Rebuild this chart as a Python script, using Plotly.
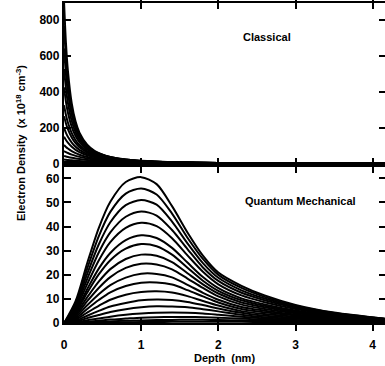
import plotly.graph_objects as go

# ---------------- data ----------------
X_TICKS = [0, 1, 2, 3, 4]
Y_TICKS_CLASSICAL = [0, 200, 400, 600, 800]
Y_TICKS_QUANTUM = [0, 10, 20, 30, 40, 50, 60]

X_CLASSICAL = [0, 0.025, 0.05, 0.1, 0.15, 0.2, 0.3, 0.4, 0.6, 0.8, 1.0, 1.4, 2.0, 2.6, 3.2, 4.2]
CLASSICAL_DENSITY = [
    [900, 669, 517, 335, 234, 173, 106, 71, 38.4, 24.0, 16.4, 9.1, 4.7, 2.9, 1.95, 1.16],
    [766, 582, 457, 303, 216, 161, 99.8, 67.8, 37.2, 23.4, 16.1, 8.9, 4.7, 2.9, 1.94, 1.15],
    [640, 497, 397, 270, 196, 148, 93.4, 64.2, 35.7, 22.7, 15.7, 8.75, 4.6, 2.84, 1.92, 1.14],
    [525, 417, 339, 237, 175, 134, 86.4, 60.2, 34.0, 21.8, 15.2, 8.54, 4.53, 2.80, 1.90, 1.13],
    [424, 344, 285, 205, 154, 120, 79.0, 55.8, 32.1, 20.8, 14.6, 8.30, 4.43, 2.75, 1.87, 1.12],
    [325, 271, 229, 170, 131, 104, 70.1, 50.5, 29.7, 19.6, 13.9, 7.98, 4.31, 2.69, 1.84, 1.11],
    [264, 224, 192, 146, 114, 92.1, 63.5, 46.4, 27.9, 18.6, 13.2, 7.71, 4.20, 2.64, 1.81, 1.09],
    [199, 172, 150, 118, 94.5, 77.6, 55.0, 41.0, 25.3, 17.2, 12.4, 7.33, 4.04, 2.56, 1.76, 1.07],
    [150, 132, 117, 94.3, 77.5, 64.7, 47.2, 35.9, 22.8, 15.7, 11.5, 6.92, 3.87, 2.47, 1.71, 1.05],
    [104, 93.5, 84.6, 70.2, 59.1, 50.5, 38.1, 29.7, 19.6, 13.9, 10.3, 6.36, 3.64, 2.35, 1.64, 1.01],
    [71, 65.0, 59.8, 51.0, 44.1, 38.4, 30.0, 24.0, 16.4, 12.0, 9.08, 5.74, 3.37, 2.21, 1.56, 0.97],
    [43, 40.1, 37.6, 33.1, 29.4, 26.3, 21.3, 17.7, 12.7, 9.58, 7.48, 4.92, 2.98, 2.00, 1.44, 0.91],
    [23.5, 22.3, 21.2, 19.3, 17.6, 16.1, 13.7, 11.8, 8.95, 7.04, 5.68, 3.93, 2.50, 1.73, 1.27, 0.82],
    [12, 11.6, 11.2, 10.4, 9.73, 9.11, 8.04, 7.15, 5.76, 4.74, 3.97, 2.90, 1.96, 1.41, 1.06, 0.71],
    [4.8, 4.69, 4.58, 4.38, 4.19, 4.02, 3.69, 3.41, 2.93, 2.54, 2.23, 1.75, 1.28, 0.98, 0.77, 0.55],
    [1.7, 1.68, 1.65, 1.61, 1.57, 1.53, 1.45, 1.38, 1.25, 1.14, 1.04, 0.88, 0.70, 0.57, 0.48, 0.36],
    [0.5, 0.5, 0.49, 0.48, 0.47, 0.46, 0.45, 0.44, 0.42, 0.40, 0.38, 0.34, 0.30, 0.26, 0.24, 0.20],
    [0.1, 0.1, 0.1, 0.1, 0.1, 0.1, 0.09, 0.09, 0.09, 0.09, 0.09, 0.08, 0.08, 0.08, 0.07, 0.07],
]

X_QUANTUM = [0, 0.15, 0.3, 0.45, 0.6, 0.8, 1.0, 1.2, 1.4, 1.6, 1.8, 2.0, 2.3, 2.6, 3.0, 3.5, 4.2]
QUANTUM_DENSITY = [
    [0, 9.1, 24.8, 39.4, 50.3, 58.5, 60.5, 57.6, 48.5, 37.6, 28.0, 21.0, 15.5, 11.5, 7.6, 4.4, 1.7],
    [0, 8.2, 22.6, 36.0, 46.1, 53.7, 55.8, 53.3, 45.4, 35.4, 26.6, 20.0, 14.6, 10.9, 7.2, 4.2, 1.7],
    [0, 7.4, 20.4, 32.6, 41.8, 48.9, 51.0, 49.1, 42.1, 33.1, 24.9, 18.8, 13.6, 10.2, 6.8, 4.0, 1.6],
    [0, 6.6, 18.3, 29.3, 37.6, 44.1, 46.3, 44.6, 38.6, 30.7, 23.1, 17.5, 12.6, 9.5, 6.4, 3.8, 1.6],
    [0, 5.8, 16.2, 26.0, 33.6, 39.5, 41.6, 40.2, 35.2, 28.1, 21.3, 16.1, 11.5, 8.7, 5.9, 3.5, 1.5],
    [0, 5.0, 14.1, 22.6, 29.1, 34.4, 36.4, 35.3, 31.2, 25.1, 19.1, 14.5, 10.3, 7.8, 5.3, 3.2, 1.4],
    [0, 4.5, 12.6, 20.2, 26.1, 30.9, 32.8, 31.9, 28.4, 23.0, 17.6, 13.4, 9.5, 7.2, 4.9, 3.0, 1.3],
    [0, 3.8, 10.7, 17.2, 22.4, 26.6, 28.4, 27.9, 25.3, 20.7, 16.1, 12.3, 8.6, 6.6, 4.5, 2.7, 1.3],
    [0, 3.1, 9.1, 14.6, 19.1, 22.9, 24.6, 24.3, 22.3, 18.5, 14.6, 11.1, 7.7, 5.9, 4.1, 2.5, 1.2],
    [0, 2.5, 7.4, 12.0, 15.8, 18.9, 20.5, 20.4, 19.0, 15.9, 12.6, 9.7, 6.7, 5.2, 3.6, 2.2, 1.1],
    [0, 2.0, 5.9, 9.6, 12.8, 15.4, 16.8, 16.9, 16.0, 13.7, 11.1, 8.6, 5.9, 4.5, 3.2, 2.0, 1.0],
    [0, 1.5, 4.4, 7.2, 9.7, 11.8, 12.9, 13.2, 12.7, 11.2, 9.2, 7.3, 5.0, 3.8, 2.7, 1.8, 0.9],
    [0, 1.0, 3.1, 5.1, 6.9, 8.4, 9.5, 9.8, 9.6, 8.8, 7.5, 6.1, 4.3, 3.1, 2.3, 1.5, 0.8],
    [0, 0.6, 2.1, 3.4, 4.6, 5.8, 6.6, 7.0, 6.9, 6.6, 5.8, 4.9, 3.5, 2.5, 1.8, 1.3, 0.7],
    [0, 0.3, 1.2, 1.9, 2.7, 3.5, 4.0, 4.3, 4.4, 4.3, 4.0, 3.5, 2.7, 1.9, 1.3, 1.0, 0.6],
    [0, 0.2, 0.6, 1.0, 1.5, 1.9, 2.3, 2.5, 2.6, 2.6, 2.5, 2.3, 1.9, 1.4, 1.0, 0.7, 0.4],
    [0, 0.07, 0.28, 0.5, 0.7, 1.0, 1.15, 1.28, 1.36, 1.4, 1.39, 1.34, 1.17, 0.96, 0.68, 0.46, 0.3],
    [0, 0.02, 0.1, 0.19, 0.26, 0.37, 0.45, 0.51, 0.56, 0.59, 0.6, 0.59, 0.57, 0.5, 0.38, 0.26, 0.17],
]

PANEL_LABELS = ["Classical", "Quantum Mechanical"]
X_TITLE = "Depth  (nm)"
Y_TITLE = "Electron Density  (x 10<sup>18</sup> cm<sup>-3</sup>)"

# ---------------- figure ----------------
W, H = 385, 366
FONT = dict(family="Liberation Sans, Arial, Helvetica, sans-serif", color="black", weight="bold")
LINE = dict(color="black", width=2.0, shape="spline", smoothing=0.8)

fig = go.Figure()
for ys in CLASSICAL_DENSITY:
    fig.add_trace(go.Scatter(x=X_CLASSICAL, y=ys, mode="lines", line=LINE,
                             xaxis="x", yaxis="y", showlegend=False, hoverinfo="skip"))
for ys in QUANTUM_DENSITY:
    fig.add_trace(go.Scatter(x=X_QUANTUM, y=ys, mode="lines", line=LINE,
                             xaxis="x2", yaxis="y2", showlegend=False, hoverinfo="skip"))
# empty carriers for the right-hand tick axes
fig.add_trace(go.Scatter(x=[], y=[], xaxis="x", yaxis="y3", showlegend=False, hoverinfo="skip"))
fig.add_trace(go.Scatter(x=[], y=[], xaxis="x2", yaxis="y4", showlegend=False, hoverinfo="skip"))

def px_y(p):
    return 1 - p / H

x_dom = [61.5 / W, 1.0]
top_dom = [px_y(167), px_y(3)]
bot_dom = [px_y(329.5), px_y(170)]
X_RANGE = [0, 4.16]
TOP_RANGE = [0, 892]
BOT_RANGE = [0, 64.8]

common_x = dict(range=X_RANGE, tickvals=X_TICKS, ticks="inside", ticklen=6, tickwidth=1.5,
                showline=True, linewidth=2.4, linecolor="black", mirror="allticks",
                showgrid=False, zeroline=False, tickcolor="black",
                tickfont=dict(size=12, **FONT))
common_y = dict(ticks="inside", ticklen=7, tickwidth=1.5, tickcolor="black",
                showline=True, linewidth=2.4, linecolor="black",
                showgrid=False, zeroline=False, tickfont=dict(size=12, **FONT))

fig.update_layout(
    width=W, height=H, margin=dict(l=0, r=0, t=0, b=0),
    paper_bgcolor="white", plot_bgcolor="white",
    xaxis=dict(domain=x_dom, anchor="y", showticklabels=False, **common_x),
    xaxis2=dict(domain=x_dom, anchor="y2", showticklabels=True, ticklabelstandoff=9,
                title=dict(text=X_TITLE, font=dict(size=11, **FONT), standoff=3), **common_x),
    yaxis=dict(domain=top_dom, anchor="x", range=TOP_RANGE, tickvals=Y_TICKS_CLASSICAL, **common_y),
    yaxis2=dict(domain=bot_dom, anchor="x2", range=BOT_RANGE, tickvals=Y_TICKS_QUANTUM, **common_y),
    yaxis3=dict(overlaying="y", anchor="free", position=1.0, side="right", range=TOP_RANGE,
                tickvals=Y_TICKS_CLASSICAL, ticks="inside", ticklen=6, tickwidth=1.5, tickcolor="black",
                showline=False, showgrid=False, zeroline=False, showticklabels=False),
    yaxis4=dict(overlaying="y2", anchor="free", position=1.0, side="right", range=BOT_RANGE,
                tickvals=Y_TICKS_QUANTUM, ticks="inside", ticklen=6, tickwidth=1.5, tickcolor="black",
                showline=False, showgrid=False, zeroline=False, showticklabels=False),
    font=dict(size=11, **FONT),
)

fig.add_annotation(text=PANEL_LABELS[0], xref="paper", yref="paper",
                   x=266 / W, y=px_y(38), xanchor="center", yanchor="middle",
                   showarrow=False, font=dict(size=11, **FONT))
fig.add_annotation(text=PANEL_LABELS[1], xref="paper", yref="paper",
                   x=300 / W, y=px_y(205), xanchor="center", yanchor="middle",
                   showarrow=False, font=dict(size=11, **FONT))
fig.add_annotation(text=Y_TITLE, xref="paper", yref="paper",
                   x=18 / W, y=px_y(146), xanchor="center", yanchor="middle", textangle=-90,
                   showarrow=False, font=dict(size=11, **FONT))

fig.write_html("out.html")
